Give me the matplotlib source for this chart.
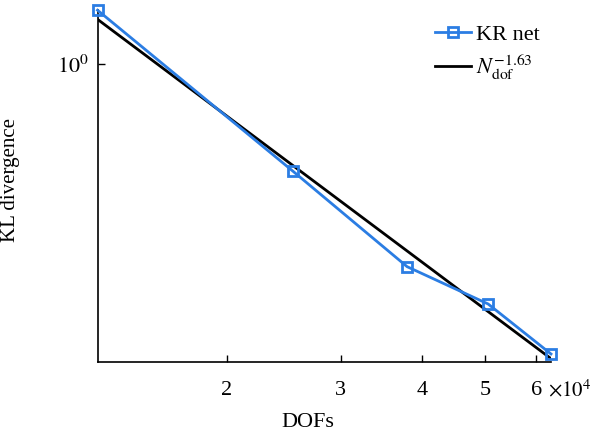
import numpy as np
import matplotlib

matplotlib.use("Agg")
import matplotlib.pyplot as plt
from matplotlib.ticker import FixedLocator, FixedFormatter, NullLocator

plt.rcParams["font.family"] = ["Liberation Serif", "DejaVu Serif"]
plt.rcParams["mathtext.fontset"] = "stix"

# values
dofs = [12650, 25300, 37950, 50600, 63250]
kl_div = [1.518, 0.4375, 0.209, 0.1566, 0.1064]
fit_exp = -1.63
x_ticks = [2e4, 3e4, 4e4, 5e4, 6e4]
x_tick_labels = ["2", "3", "4", "5", "6"]

BLUE = "#2b7de3"

# power-law reference line with fixed exponent, intercept fitted in log space
lx = np.log10(dofs)
ly = np.log10(kl_div)
log_c = np.mean(ly) - fit_exp * np.mean(lx)
fit_vals = 10 ** log_c * np.asarray(dofs, dtype=float) ** fit_exp

W, H = 601, 433
fig = plt.figure(figsize=(W / 100, H / 100), dpi=100)
ax = fig.add_axes([97.5 / W, (H - 362) / H, (551 - 97.5) / W, (362 - 10) / H])

ax.plot(dofs, kl_div, color=BLUE, lw=2.0, marker="s", ms=7.5, mew=2.0,
        mfc="none", mec=BLUE, label="KR net", clip_on=False, zorder=3)
ax.plot(dofs, fit_vals, color="black", lw=2.0,
        label=r"$N_{\rm dof}^{-1.63}$", zorder=2)

ax.set_xscale("log")
ax.set_yscale("log")
ax.set_xlim(dofs[0], dofs[-1])
ax.set_ylim(0.1, 1.52)

ax.xaxis.set_major_locator(FixedLocator(x_ticks))
ax.xaxis.set_major_formatter(FixedFormatter(x_tick_labels))
ax.xaxis.set_minor_locator(NullLocator())
ax.yaxis.set_major_locator(FixedLocator([1.0]))
ax.yaxis.set_major_formatter(FixedFormatter([r"$10^0$"]))
ax.yaxis.set_minor_locator(NullLocator())

for side in ("top", "right"):
    ax.spines[side].set_visible(False)
for side in ("left", "bottom"):
    ax.spines[side].set_linewidth(1.2)
ax.tick_params(direction="in", length=5, width=1.0, labelsize=16, pad=14)
ax.tick_params(axis="y", pad=6)

ax.text(548 / W, (H - 391) / H, r"$\times 10^4$", transform=fig.transFigure,
        fontsize=15, ha="left", va="center")

ax.set_xlabel("DOFs", fontsize=16)
ax.xaxis.set_label_coords((308 - 97.5) / (551 - 97.5), -(413 - 362) / (362 - 10))
ax.set_ylabel("KL divergence", fontsize=15)
ax.yaxis.set_label_coords(-(97.5 - 20) / (551 - 97.5), (362 - 180) / (362 - 10))

ax.legend(loc="upper right", bbox_to_anchor=(1.02, 1.015), frameon=False,
          fontsize=16, handlelength=1.6, handletextpad=0.25, labelspacing=0.35)

fig.savefig("out.png", dpi=100)
